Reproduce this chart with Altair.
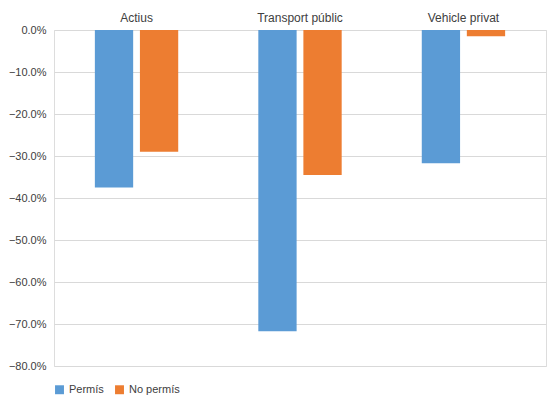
import altair as alt
import pandas as pd

categories = ["Actius", "Transport públic", "Vehicle privat"]
series = ["Permís", "No permís"]
permis = [-0.375, -0.717, -0.317]
no_permis = [-0.29, -0.345, -0.015]

rows = []
for c, a, b in zip(categories, permis, no_permis):
    rows.append({"cat": c, "serie": "Permís", "val": a})
    rows.append({"cat": c, "serie": "No permís", "val": b})
df = pd.DataFrame(rows)

chart = alt.Chart(df).mark_bar().encode(
    x=alt.X("cat:N", sort=categories, title=None,
            scale=alt.Scale(paddingInner=0.49, paddingOuter=0.25),
            axis=alt.Axis(orient="top", labelAngle=0, domain=False, ticks=False, grid=False,
                          labelFontSize=12, labelColor="#404040", labelPadding=6)),
    xOffset=alt.XOffset("serie:N", sort=series, scale=alt.Scale(paddingInner=0.15)),
    y=alt.Y("val:Q", title=None,
            scale=alt.Scale(domain=[-0.8, 0], nice=False),
            axis=alt.Axis(format=".1%", values=[-0.8,-0.7,-0.6,-0.5,-0.4,-0.3,-0.2,-0.1,0],
                          domain=False, ticks=False, labelFontSize=11,
                          labelColor="#404040", gridColor="#d9d9d9", labelPadding=8)),
    color=alt.Color("serie:N", sort=series,
                    scale=alt.Scale(domain=series, range=["#5B9BD5", "#ED7D31"]),
                    legend=alt.Legend(orient="bottom", direction="horizontal", title=None,
                                      symbolType="square", legendX=200,
                                      labelFontSize=11, labelColor="#404040", symbolSize=80)),
).properties(width=492, height=336).configure_view(stroke=None).configure(
    font="Liberation Sans", padding={"left": 0, "top": 3, "right": 5, "bottom": 0}
).configure_legend(orient="none", legendX=205, legendY=350)

chart.save("out.html", embed_options={"renderer": "svg", "actions": False})
